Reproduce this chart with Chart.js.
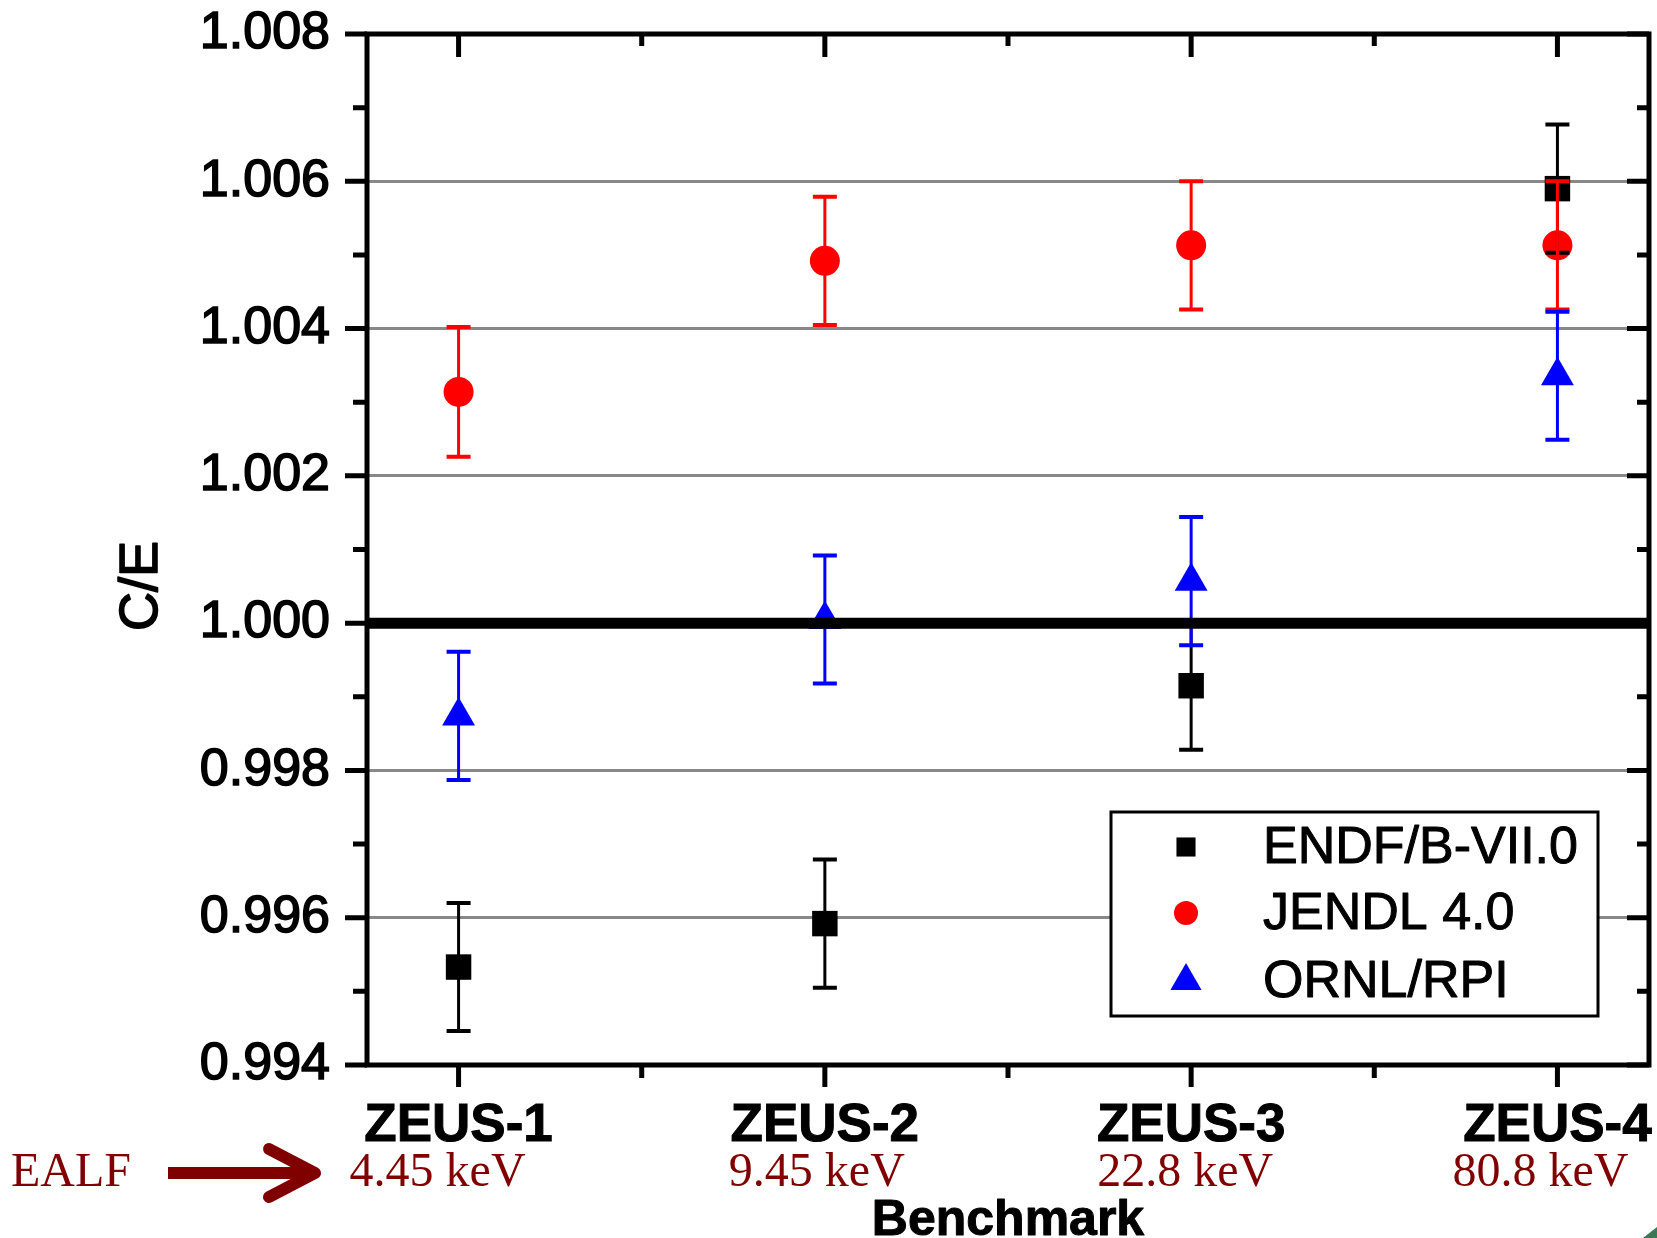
<!DOCTYPE html>
<html>
<head>
<meta charset="utf-8">
<title>C/E - ZEUS</title>
<script src="https://cdn.jsdelivr.net/npm/chart.js@4.4.1/dist/chart.umd.min.js"></script>
<style>
    html, body { margin: 0; padding: 0; background: #fff; }
    #area { width: 1657px; height: 1238px; position: relative; }
</style>
</head>
<body>
<div id="area"><canvas id="graficoCE"></canvas></div>
<script>
// ================= DADOS =================
const benchmarks = ["ZEUS-1", "ZEUS-2", "ZEUS-3", "ZEUS-4"]
const posicoes = [1, 2, 3, 4]
const ealf = ["4.45 keV", "9.45 keV", "22.8 keV", "80.8 keV"]

// C/E por biblioteca
const valoresEndf = [0.99533, 0.99592, 0.99915, 1.00590]
const valoresJendl = [1.00314, 1.00492, 1.00513, 1.00513]
const valoresOrnl = [0.99874, 1.00005, 1.00057, 1.00336]

// incerteza (1 sigma)
const errosEndf = [0.00087, 0.00087, 0.00087, 0.00087]
const errosJendl = [0.00088, 0.00087, 0.00087, 0.00087]
const errosOrnl = [0.00087, 0.00087, 0.00087, 0.00087]

// eixo Y
const yTicks = [0.994, 0.996, 0.998, 1.000, 1.002, 1.004, 1.006, 1.008]
const yTickLabels = ["0.994", "0.996", "0.998", "1.000", "1.002", "1.004", "1.006", "1.008"]
const yTicksMenores = [0.995, 0.997, 0.999, 1.001, 1.003, 1.005, 1.007]
const xTicksMenores = [1.5, 2.5, 3.5]

// ================= ESTILO =================
const FONTE = "'Liberation Sans', Arial, sans-serif"
const FONTE_SERIF = "'Liberation Serif', 'Times New Roman', serif"
const VERMELHO_ESCURO = "#800000"
const ajusteEalf = [-21, -8, -6, -17]   // deslocamento horizontal dos textos de EALF

function pontos(valores) {
    return posicoes.map((x, i) => ({ x: x, y: valores[i] }))
}

// texto preenchido com contorno fino (deixa o traço mais encorpado)
function textoEncorpado(ctx, texto, x, y, contorno) {
    ctx.lineWidth = contorno
    ctx.lineJoin = "round"
    ctx.strokeStyle = ctx.fillStyle
    ctx.strokeText(texto, x, y)
    ctx.fillText(texto, x, y)
}

// sem margem extra para os marcadores: a moldura vai quase até a borda direita
Chart.controllers.scatter.prototype.getMaxOverflow = function () { return 0 }

const series = [
    { label: "ENDF/B-VII.0", valores: valoresEndf, erros: errosEndf, cor: "#000000", estilo: "rect", raio: 18, raioLegenda: 13.5 },
    { label: "JENDL 4.0", valores: valoresJendl, erros: errosJendl, cor: "#ff0000", estilo: "circle", raio: 15, raioLegenda: 12 },
    { label: "ORNL/RPI", valores: valoresOrnl, erros: errosOrnl, cor: "#0000ff", estilo: "triangle", raio: 19, raioLegenda: 18 }
]

// ================= PLUGIN: barras de erro, linha 1.000, moldura =================
const pluginMoldura = {
    id: "moldura",
    afterDatasetsDraw(chart) {
        const ctx = chart.ctx
        const { left, right, top, bottom } = chart.chartArea
        const xs = chart.scales.x
        const ys = chart.scales.y

        ctx.save()
        // barras de erro
        chart.data.datasets.forEach(ds => {
            ctx.strokeStyle = ds.borderColor
            ds.data.forEach((p, i) => {
                const px = xs.getPixelForValue(p.x)
                const y1 = ys.getPixelForValue(p.y + ds.erros[i])
                const y2 = ys.getPixelForValue(p.y - ds.erros[i])
                ctx.lineWidth = 3
                ctx.beginPath()
                ctx.moveTo(px, y1)
                ctx.lineTo(px, y2)
                ctx.stroke()
                ctx.lineWidth = 4
                ctx.beginPath()
                ctx.moveTo(px - 12, y1)
                ctx.lineTo(px + 12, y1)
                ctx.moveTo(px - 12, y2)
                ctx.lineTo(px + 12, y2)
                ctx.stroke()
            })
        })

        // linha de referência C/E = 1
        const y1000 = ys.getPixelForValue(1.0)
        ctx.strokeStyle = "#000"
        ctx.lineWidth = 11
        ctx.beginPath()
        ctx.moveTo(left, y1000)
        ctx.lineTo(right, y1000)
        ctx.stroke()

        // moldura
        ctx.lineWidth = 5
        ctx.strokeRect(left, top, right - left, bottom - top)

        // ticks
        ctx.beginPath()
        yTicks.forEach(v => {
            const py = ys.getPixelForValue(v)
            ctx.moveTo(left - 22, py); ctx.lineTo(left, py)
            ctx.moveTo(right, py); ctx.lineTo(right - 22, py)
        })
        yTicksMenores.forEach(v => {
            const py = ys.getPixelForValue(v)
            ctx.moveTo(left - 14, py); ctx.lineTo(left, py)
            ctx.moveTo(right, py); ctx.lineTo(right - 12, py)
        })
        posicoes.forEach(v => {
            const px = xs.getPixelForValue(v)
            ctx.moveTo(px, bottom); ctx.lineTo(px, bottom + 22)
            ctx.moveTo(px, top); ctx.lineTo(px, top + 23)
        })
        xTicksMenores.forEach(v => {
            const px = xs.getPixelForValue(v)
            ctx.moveTo(px, bottom); ctx.lineTo(px, bottom + 13)
            ctx.moveTo(px, top); ctx.lineTo(px, top + 12)
        })
        ctx.stroke()
        ctx.restore()
    },

    // legenda, títulos dos eixos e anotações de EALF
    afterDraw(chart) {
        const ctx = chart.ctx
        const { left, right } = chart.chartArea
        const xs = chart.scales.x

        ctx.save()
        // ===== LEGENDA =====
        const lx = right - 538, ly = 812, lw = 487, lh = 204
        ctx.fillStyle = "#fff"
        ctx.fillRect(lx, ly, lw, lh)
        ctx.strokeStyle = "#000"
        ctx.lineWidth = 3
        ctx.strokeRect(lx, ly, lw, lh)

        const linhas = [847, 913, 981]
        chart.data.datasets.forEach((ds, i) => {
            ctx.fillStyle = ds.backgroundColor
            Chart.helpers.drawPoint(ctx, { pointStyle: ds.pointStyle, radius: series[i].raioLegenda, rotation: 0, borderWidth: 0 }, lx + 75, linhas[i])
            ctx.fillStyle = "#000"
            ctx.font = "52px " + FONTE
            ctx.textAlign = "left"
            ctx.textBaseline = "middle"
            textoEncorpado(ctx, ds.label, lx + 152, linhas[i] + 2, 1)
        })

        // ===== TÍTULOS =====
        ctx.fillStyle = "#000"
        ctx.font = "54px " + FONTE
        ctx.textAlign = "center"
        ctx.textBaseline = "middle"
        ctx.save()
        ctx.translate(142, 586)
        ctx.rotate(-Math.PI / 2)
        textoEncorpado(ctx, "C/E", 0, 0, 1.6)
        ctx.restore()

        ctx.font = "bold 50px " + FONTE
        ctx.textBaseline = "alphabetic"
        textoEncorpado(ctx, "Benchmark", (left + right) / 2, 1235, 1)

        // ===== EALF =====
        ctx.fillStyle = VERMELHO_ESCURO
        ctx.font = "48px " + FONTE_SERIF
        ctx.textAlign = "center"
        posicoes.forEach((v, i) => {
            ctx.fillText(ealf[i], xs.getPixelForValue(v) + ajusteEalf[i], 1186)
        })
        ctx.textAlign = "left"
        ctx.fillText("EALF", 11, 1186)

        // seta
        ctx.strokeStyle = VERMELHO_ESCURO
        ctx.lineWidth = 12
        ctx.lineCap = "butt"
        ctx.beginPath()
        ctx.moveTo(168, 1173)
        ctx.lineTo(308, 1173)
        ctx.stroke()
        ctx.lineCap = "round"
        ctx.lineJoin = "round"
        ctx.beginPath()
        ctx.moveTo(269, 1149)
        ctx.lineTo(315, 1173)
        ctx.lineTo(269, 1197)
        ctx.stroke()

        // canto verde
        ctx.fillStyle = "#3b7a57"
        ctx.beginPath()
        ctx.moveTo(1643, 1238)
        ctx.lineTo(1657, 1227)
        ctx.lineTo(1657, 1238)
        ctx.closePath()
        ctx.fill()
        ctx.restore()
    }
}

// ================= GRÁFICO =================
const datasets = series.map(s => ({
    label: s.label,
    data: pontos(s.valores),
    erros: s.erros,
    pointStyle: s.estilo,
    pointRadius: s.raio,
    pointHoverRadius: s.raio,
    backgroundColor: s.cor,
    borderColor: s.cor,
    borderWidth: 0,
    showLine: false
}))

new Chart(document.getElementById("graficoCE"), {
    type: "scatter",
    data: { datasets: datasets },
    options: {
        responsive: true,
        maintainAspectRatio: false,
        animation: false,
        devicePixelRatio: 1,
        layout: { padding: { top: 34, right: 8, left: 0, bottom: 0 } },
        plugins: {
            legend: { display: false },
            tooltip: { enabled: false }
        },
        scales: {
            x: {
                type: "linear",
                min: 0.75,
                max: 4.25,
                afterBuildTicks: s => { s.ticks = posicoes.map(v => ({ value: v })) },
                afterFit: s => { s.height = 173; s.paddingLeft = 0; s.paddingRight = 0 },
                ticks: {
                    autoSkip: false,
                    maxRotation: 0,
                    padding: 30,
                    color: "#000",
                    textStrokeColor: "#000",
                    textStrokeWidth: 1,
                    font: { family: FONTE, size: 53, weight: "bold" },
                    callback: v => benchmarks[posicoes.indexOf(v)]
                },
                grid: { display: false, drawTicks: false },
                border: { display: false }
            },
            y: {
                min: 0.994,
                max: 1.008,
                afterBuildTicks: s => { s.ticks = yTicks.map(v => ({ value: v })) },
                afterFit: s => { s.width = 367; s.paddingTop = 0; s.paddingBottom = 0 },
                ticks: {
                    padding: 37,
                    color: "#000",
                    textStrokeColor: "#000",
                    textStrokeWidth: 1.6,
                    font: { family: FONTE, size: 52 },
                    callback: (v, i) => yTickLabels[i]
                },
                grid: {
                    drawTicks: false,
                    lineWidth: 3,
                    color: c => {
                        const v = c.tick ? c.tick.value : 0
                        if (Math.abs(v - 0.994) < 1e-9 || Math.abs(v - 1.008) < 1e-9 || Math.abs(v - 1.0) < 1e-9) return "rgba(0,0,0,0)"
                        return "#888888"
                    }
                },
                border: { display: false }
            }
        }
    },
    plugins: [pluginMoldura]
})
</script>
</body>
</html>
